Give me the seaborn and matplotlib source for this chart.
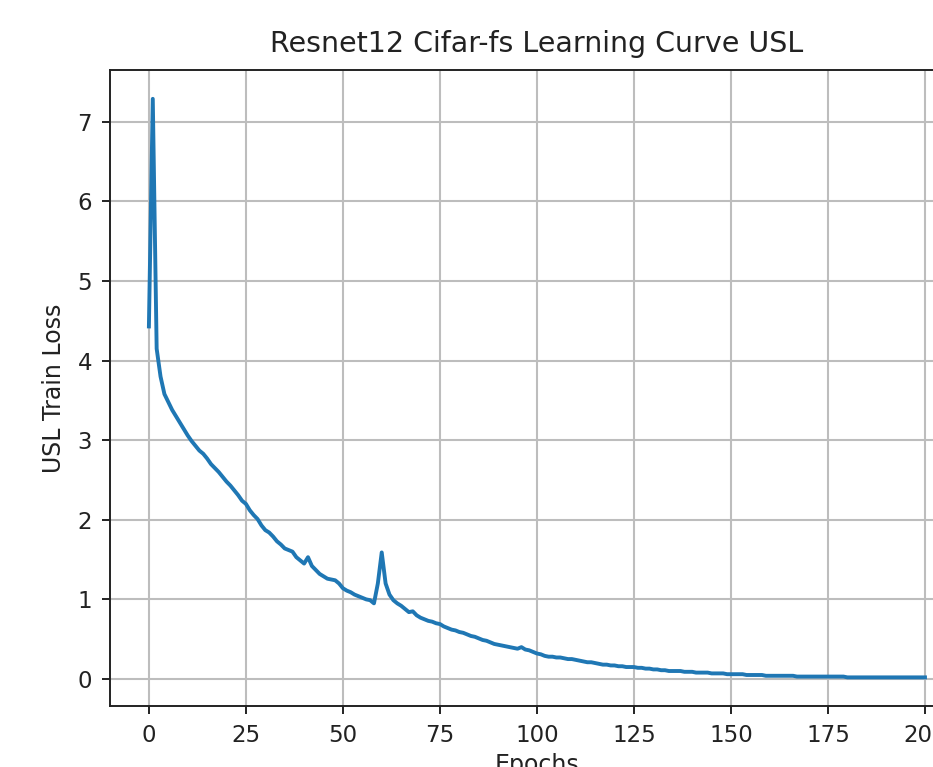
import matplotlib
matplotlib.use("Agg")
import matplotlib.pyplot as plt
import seaborn as sns
import pandas as pd

# USL train loss per epoch
loss = [
    4.43, 7.29, 4.15, 3.80, 3.58, 3.48, 3.38, 3.30, 3.22, 3.14,
    3.06, 2.99, 2.93, 2.87, 2.83, 2.77, 2.70, 2.65, 2.60, 2.54,
    2.48, 2.43, 2.37, 2.31, 2.24, 2.20, 2.12, 2.06, 2.01, 1.93,
    1.87, 1.84, 1.79, 1.73, 1.69, 1.64, 1.62, 1.60, 1.53, 1.49,
    1.45, 1.53, 1.42, 1.37, 1.32, 1.29, 1.26, 1.25, 1.24, 1.20,
    1.14, 1.11, 1.09, 1.06, 1.04, 1.02, 1.00, 0.99, 0.95, 1.20,
    1.59, 1.20, 1.06, 0.99, 0.95, 0.92, 0.88, 0.84, 0.85, 0.80,
    0.77, 0.75, 0.73, 0.72, 0.70, 0.69, 0.66, 0.64, 0.62, 0.61,
    0.59, 0.58, 0.56, 0.54, 0.53, 0.51, 0.49, 0.48, 0.46, 0.44,
    0.43, 0.42, 0.41, 0.40, 0.39, 0.38, 0.40, 0.37, 0.36, 0.34,
    0.32, 0.31, 0.29, 0.28, 0.28, 0.27, 0.27, 0.26, 0.25, 0.25,
    0.24, 0.23, 0.22, 0.21, 0.21, 0.20, 0.19, 0.18, 0.18, 0.17,
    0.17, 0.16, 0.16, 0.15, 0.15, 0.15, 0.14, 0.14, 0.13, 0.13,
    0.12, 0.12, 0.11, 0.11, 0.10, 0.10, 0.10, 0.10, 0.09, 0.09,
    0.09, 0.08, 0.08, 0.08, 0.08, 0.07, 0.07, 0.07, 0.07, 0.06,
    0.06, 0.06, 0.06, 0.06, 0.05, 0.05, 0.05, 0.05, 0.05, 0.04,
    0.04, 0.04, 0.04, 0.04, 0.04, 0.04, 0.04, 0.03, 0.03, 0.03,
    0.03, 0.03, 0.03, 0.03, 0.03, 0.03, 0.03, 0.03, 0.03, 0.03,
    0.02, 0.02, 0.02, 0.02, 0.02, 0.02, 0.02, 0.02, 0.02, 0.02,
    0.02, 0.02, 0.02, 0.02, 0.02, 0.02, 0.02, 0.02, 0.02, 0.02,
    0.02,
]
epochs = list(range(len(loss)))

df = pd.DataFrame({"Epochs": epochs, "USL Train Loss": loss})

plt.rcParams["font.family"] = ["DejaVu Sans"]
plt.rcParams["axes.linewidth"] = 1.4
plt.rcParams["xtick.major.width"] = 1.4
plt.rcParams["ytick.major.width"] = 1.4
plt.rcParams["xtick.major.size"] = 6
plt.rcParams["ytick.major.size"] = 6
plt.rcParams["axes.edgecolor"] = "#222222"

fig = plt.figure(figsize=(9.33, 7.67), dpi=100)
# the reference is a cropped screenshot: axes run past the right edge
ax = fig.add_axes([0.118, 0.0795, 0.915, 0.829])

sns.lineplot(data=df, x="Epochs", y="USL Train Loss", ax=ax,
             color="#1f77b4", linewidth=2.8)

ax.set_xlim(-10, 210)
ax.set_ylim(-0.34, 7.65)
ax.set_xticks([0, 25, 50, 75, 100, 125, 150, 175, 200])
ax.set_yticks(range(0, 8))
ax.grid(True, color="#bdbdbd", linewidth=1.5)
ax.tick_params(labelsize=16.5, colors="#222222", pad=7)
ax.set_title("Resnet12 Cifar-fs Learning Curve USL", fontsize=20.5,
             color="#222222", pad=13)
ax.set_xlabel("Epochs", fontsize=17, color="#222222", labelpad=4)
ax.set_ylabel("USL Train Loss", fontsize=17, color="#222222", labelpad=8)

plt.savefig("out.png", dpi=100)
